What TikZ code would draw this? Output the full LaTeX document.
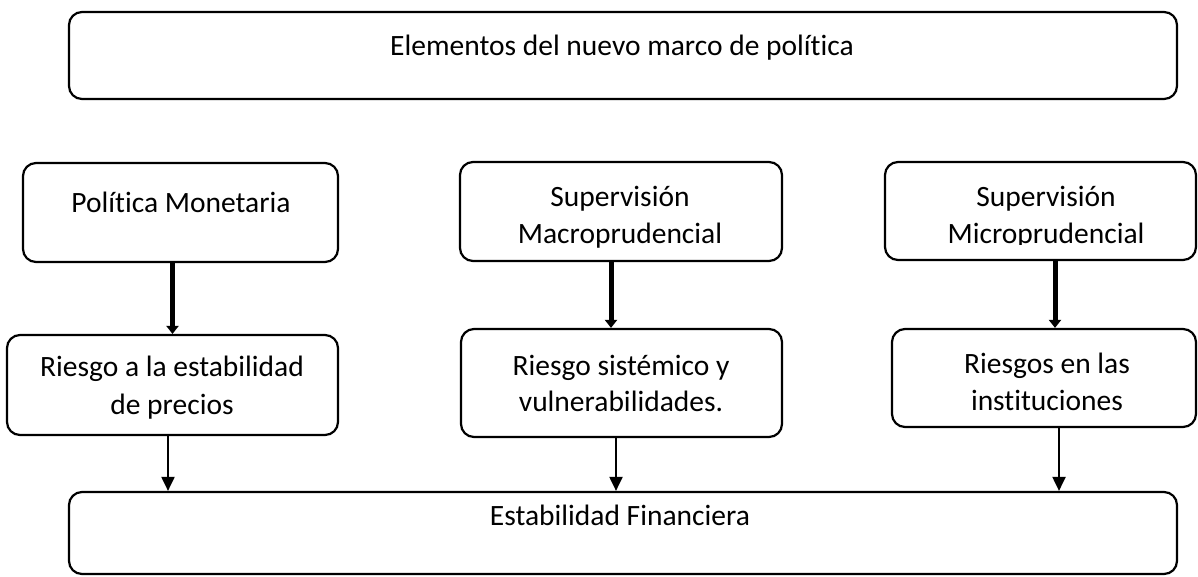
\documentclass[tikz,border=0pt]{standalone}
\usepackage{fontspec}
\setmainfont{Carlito}[Ligatures=NoCommon]
\usetikzlibrary{arrows.meta}
\begin{document}
\begin{tikzpicture}[x=1pt,y=-1pt,
  box/.style={draw=black, line width=2.2pt, rounded corners=13pt, inner sep=0pt},
  txt/.style={anchor=base, inner sep=0pt, font=\fontsize{29.5}{35}\selectfont},
  bigarrow/.style={line width=5pt, -{Triangle[width=12pt,length=8pt]}},
  smallarrow/.style={line width=2pt, -{Triangle[width=13pt,length=14pt]}}]
\useasboundingbox (0,0) rectangle (1198,576);
% boxes
\node[box, minimum width=1108pt, minimum height=87pt] (top) at (623,55.5) {};
\node[box, minimum width=315pt, minimum height=99pt] (pm) at (180.5,212.5) {};
\node[box, minimum width=322pt, minimum height=99pt] (mt) at (621,211.5) {};
\node[box, minimum width=311pt, minimum height=98pt] (rt) at (1040.5,211) {};
\node[box, minimum width=331pt, minimum height=100pt] (rl) at (172.5,385) {};
\node[box, minimum width=321pt, minimum height=108pt] (mr) at (621.5,383) {};
\node[box, minimum width=304pt, minimum height=98pt] (rr) at (1044,378) {};
\node[box, minimum width=1108pt, minimum height=82pt] (fin) at (623,533) {};
% texts
\node[txt] (toptxt) at (622,55) {Elementos del nuevo marco de política};
\node[txt] (pmtxt) at (181,212) {Política Monetaria};
\node[txt] (mt1) at (620,206) {Supervisión};
\begin{scope}
  \clip (455,150) rectangle (790,247);
  \node[txt] (mt2) at (620,243) {Macroprudencial};
\end{scope}
\node[txt] (rt1) at (1046,206) {Supervisión};
\begin{scope}
  \clip (880,150) rectangle (1198,244);
  \node[txt] (rt2) at (1046,243) {Microprudencial};
\end{scope}
\node[txt] (rl1) at (172,376) {Riesgo a la estabilidad};
\node[txt] (rl2) at (172,414) {de precios};
\node[txt] (mr1) at (621,375) {Riesgo sistémico y};
\node[txt] (mr2) at (621,411) {vulnerabilidades.};
\node[txt] (rr1) at (1047,373) {Riesgos en las};
\node[txt] (rr2) at (1047,410) {instituciones};
\node[txt] (fintxt) at (620,525) {Estabilidad Financiera};
% thick arrows
\draw[bigarrow] (pm.south -| rl.north) -- (rl.north);
\draw[bigarrow] ([xshift=-10pt]mt.south) -- ([xshift=-10pt]mt.south |- mr.north);
\draw[bigarrow] ([xshift=14.5pt]rt.south) -- ([xshift=14.5pt]rt.south |- rr.north);
% thin arrows
\draw[smallarrow] ([xshift=-4.5pt]rl.south) -- ([xshift=-4.5pt]rl.south |- fin.north);
\draw[smallarrow] ([xshift=-5.5pt]mr.south) -- ([xshift=-5.5pt]mr.south |- fin.north);
\draw[smallarrow] ([xshift=15pt]rr.south) -- ([xshift=15pt]rr.south |- fin.north);
\end{tikzpicture}
\end{document}
